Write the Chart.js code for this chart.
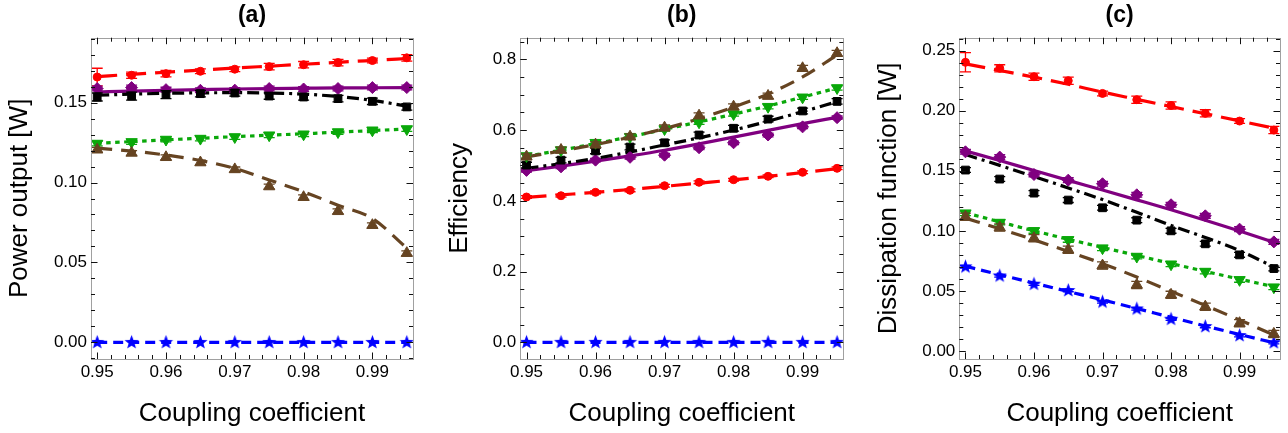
<!DOCTYPE html>
<html>
<head>
<meta charset="utf-8">
<script src="https://cdn.jsdelivr.net/npm/chart.js@4.4.1/dist/chart.umd.min.js"></script>
<style>
  body { margin: 0; background: #fff; width: 1288px; height: 433px; overflow: hidden; position: relative; }
  canvas { position: absolute; top: 0; }
</style>
</head>
<body>
<canvas id="panel-a" width="430" height="433" style="left:0px"></canvas>
<canvas id="panel-b" width="430" height="433" style="left:430px"></canvas>
<canvas id="panel-c" width="428" height="433" style="left:860px"></canvas>
<script>
// coupling coefficient values (x of every point)
const coupling = [0.95, 0.955, 0.96, 0.965, 0.97, 0.975, 0.98, 0.985, 0.99, 0.995];
const couplingTicks = [0.95, 0.96, 0.97, 0.98, 0.99];

// (a) power output [W]
const powerTicks = [0, 0.05, 0.10, 0.15];
const powerRed = [0.166, 0.1671, 0.1681, 0.1696, 0.1709, 0.1725, 0.1737, 0.175, 0.1763, 0.178];
const powerRedErr = [0.0055, 0.002, 0.002, 0.0015, 0.0015, 0.002, 0.002, 0.002, 0.0015, 0.002];
const powerRedFit = [0.1663, 0.1677, 0.169, 0.1703, 0.1716, 0.1728, 0.174, 0.1752, 0.1764, 0.1776];
const powerPurple = [0.1588, 0.1594, 0.1581, 0.1577, 0.1578, 0.1588, 0.1585, 0.1588, 0.1594, 0.1594];
const powerPurpleErr = [0.0015, 0.0015, 0.0015, 0.0015, 0.0015, 0.0015, 0.0015, 0.0015, 0.0015, 0.0015];
const powerPurpleFit = [0.1566, 0.1572, 0.1577, 0.1581, 0.1585, 0.1588, 0.159, 0.1592, 0.1593, 0.1594];
const powerBlack = [0.1535, 0.1541, 0.155, 0.1556, 0.156, 0.1541, 0.1535, 0.1525, 0.1508, 0.1473];
const powerBlackErr = [0.0025, 0.0025, 0.0025, 0.002, 0.002, 0.002, 0.002, 0.002, 0.002, 0.002];
const powerBlackFit = [0.1546, 0.1553, 0.1558, 0.1561, 0.1562, 0.156, 0.1553, 0.1538, 0.1514, 0.1478];
const powerGreen = [0.1244, 0.1254, 0.1269, 0.1275, 0.1285, 0.1296, 0.1302, 0.1316, 0.1327, 0.1335];
const powerGreenErr = [0.0015, 0.0015, 0.0015, 0.0015, 0.0015, 0.0015, 0.0015, 0.0015, 0.0015, 0.0015];
const powerGreenFit = [0.1245, 0.1256, 0.1267, 0.1277, 0.1287, 0.1296, 0.1305, 0.1315, 0.1325, 0.1335];
const powerBrown = [0.1205, 0.1185, 0.1158, 0.1125, 0.1082, 0.0975, 0.0908, 0.082, 0.0733, 0.0558];
const powerBrownErr = [0.0015, 0.0015, 0.0015, 0.0015, 0.0015, 0.0015, 0.0015, 0.0015, 0.0015, 0.0015];
const powerBrownFit = [0.1215, 0.1197, 0.1172, 0.1138, 0.1088, 0.1016, 0.0942, 0.0858, 0.0775, 0.059];
const powerBlue = [0, 0, 0, 0, 0, 0, 0, 0, 0, 0];
const powerBlueFit = [0, 0, 0, 0, 0, 0, 0, 0, 0, 0];

// (b) efficiency
const effTicks = [0, 0.2, 0.4, 0.6, 0.8];
const effRed = [0.4108, 0.4144, 0.424, 0.4297, 0.4427, 0.4523, 0.4597, 0.4693, 0.4806, 0.4919];
const effRedErr = [0.004, 0.004, 0.004, 0.004, 0.004, 0.004, 0.004, 0.004, 0.004, 0.004];
const effRedFit = [0.41, 0.417, 0.424, 0.432, 0.441, 0.45, 0.459, 0.469, 0.48, 0.491];
const effPurple = [0.486, 0.496, 0.515, 0.523, 0.529, 0.55, 0.564, 0.586, 0.609, 0.635];
const effPurpleErr = [0.005, 0.005, 0.005, 0.005, 0.005, 0.005, 0.005, 0.005, 0.005, 0.005];
const effPurpleFit = [0.485, 0.498, 0.512, 0.527, 0.543, 0.561, 0.58, 0.599, 0.618, 0.636];
const effBlack = [0.501, 0.515, 0.541, 0.552, 0.564, 0.586, 0.605, 0.631, 0.654, 0.681];
const effBlackErr = [0.008, 0.008, 0.008, 0.008, 0.008, 0.008, 0.008, 0.008, 0.008, 0.008];
const effBlackFit = [0.492, 0.505, 0.52, 0.538, 0.558, 0.578, 0.6, 0.625, 0.652, 0.68];
const effGreen = [0.5267, 0.5436, 0.5643, 0.5813, 0.603, 0.622, 0.6454, 0.666, 0.6926, 0.719];
const effGreenErr = [0.006, 0.006, 0.006, 0.006, 0.006, 0.006, 0.006, 0.006, 0.006, 0.006];
const effGreenFit = [0.526, 0.543, 0.562, 0.581, 0.602, 0.623, 0.645, 0.668, 0.693, 0.719];
const effBrown = [0.5248, 0.5436, 0.5587, 0.5813, 0.6067, 0.6406, 0.666, 0.6963, 0.7746, 0.817];
const effBrownErr = [0.008, 0.008, 0.008, 0.008, 0.008, 0.008, 0.008, 0.008, 0.008, 0.008];
const effBrownFit = [0.524, 0.541, 0.559, 0.58, 0.604, 0.632, 0.665, 0.702, 0.75, 0.812];
const effBlue = [0, 0, 0, 0, 0, 0, 0, 0, 0, 0];
const effBlueFit = [0, 0, 0, 0, 0, 0, 0, 0, 0, 0];

// (c) dissipation function [W]
const dissTicks = [0, 0.05, 0.10, 0.15, 0.20, 0.25];
const dissRed = [0.2403, 0.2353, 0.2283, 0.225, 0.2144, 0.2092, 0.2044, 0.1978, 0.1914, 0.1839];
const dissRedErr = [0.008, 0.003, 0.003, 0.003, 0.002, 0.003, 0.003, 0.003, 0.002, 0.003];
const dissRedFit = [0.239, 0.2335, 0.228, 0.222, 0.2155, 0.2095, 0.2035, 0.1975, 0.1915, 0.1855];
const dissPurple = [0.1658, 0.1614, 0.1469, 0.1422, 0.1392, 0.13, 0.1217, 0.1125, 0.1014, 0.0908];
const dissPurpleErr = [0.002, 0.002, 0.002, 0.002, 0.002, 0.002, 0.002, 0.002, 0.002, 0.002];
const dissPurpleFit = [0.1665, 0.1585, 0.1502, 0.142, 0.134, 0.1258, 0.1175, 0.1088, 0.0998, 0.0905];
const dissBlack = [0.1506, 0.1431, 0.1314, 0.1256, 0.1192, 0.1089, 0.1, 0.0892, 0.08, 0.0686];
const dissBlackErr = [0.002, 0.002, 0.002, 0.002, 0.002, 0.002, 0.002, 0.002, 0.002, 0.002];
const dissBlackFit = [0.1635, 0.1545, 0.1452, 0.1357, 0.126, 0.1155, 0.1045, 0.0945, 0.0835, 0.07];
const dissGreen = [0.1147, 0.1069, 0.1, 0.0925, 0.0856, 0.0786, 0.0722, 0.0661, 0.0592, 0.0531];
const dissGreenErr = [0.002, 0.002, 0.002, 0.002, 0.002, 0.002, 0.002, 0.002, 0.002, 0.002];
const dissGreenFit = [0.115, 0.1075, 0.1, 0.093, 0.0862, 0.0795, 0.0728, 0.0662, 0.0598, 0.0535];
const dissBrown = [0.1117, 0.1028, 0.0939, 0.0842, 0.0711, 0.055, 0.0467, 0.0369, 0.0231, 0.0142];
const dissBrownErr = [0.003, 0.003, 0.003, 0.003, 0.003, 0.003, 0.003, 0.003, 0.003, 0.003];
const dissBrownFit = [0.1106, 0.1017, 0.0925, 0.0828, 0.0727, 0.0615, 0.0497, 0.0378, 0.0258, 0.0133];
const dissBlue = [0.07, 0.0625, 0.0556, 0.0503, 0.0408, 0.035, 0.0264, 0.0203, 0.0128, 0.0069];
const dissBlueErr = [0.001, 0.001, 0.001, 0.001, 0.001, 0.001, 0.001, 0.001, 0.001, 0.001];
const dissBlueFit = [0.0705, 0.0635, 0.0565, 0.0495, 0.0425, 0.0353, 0.028, 0.0208, 0.0137, 0.0068];

Chart.defaults.font.family = "'Liberation Sans', Arial, sans-serif";
Chart.defaults.color = '#000';

const RED = '#ff0000', PURPLE = '#800080', BLACK = '#000000', GREEN = '#0aa80a', BROWN = '#664422', BLUE = '#0000ff';

// filled five pointed star for the blue series
function starImage(r, color) {
  const c = document.createElement('canvas');
  const s = Math.ceil(r * 2 + 2);
  c.width = s; c.height = s;
  const g = c.getContext('2d');
  g.fillStyle = color;
  g.beginPath();
  for (let i = 0; i < 10; i++) {
    const rad = i % 2 === 0 ? r : r * 0.42;
    const a = -Math.PI / 2 + i * Math.PI / 5;
    const px = s / 2 + rad * Math.cos(a), py = s / 2 + rad * Math.sin(a);
    if (i === 0) g.moveTo(px, py); else g.lineTo(px, py);
  }
  g.closePath();
  g.fill();
  return c;
}
const star = starImage(7.5, BLUE);

function serie(color, marker, size, rot, dash, pts, err, fit) {
  return { color, marker, size, rot, dash, pts, err, fit };
}

function armarDatasets(series) {
  const out = [];
  series.forEach(s => {
    out.push({
      type: 'line',
      data: coupling.map((x, i) => ({ x: x, y: s.fit[i] })),
      borderColor: s.color,
      borderWidth: 3.2,
      borderDash: s.dash,
      borderCapStyle: 'butt',
      pointRadius: 0,
      cubicInterpolationMode: 'monotone',
      fill: false,
      order: 2
    });
    out.push({
      type: 'scatter',
      data: coupling.map((x, i) => ({ x: x, y: s.pts[i] })),
      errores: s.err,
      backgroundColor: s.color,
      borderColor: s.color,
      pointStyle: s.marker,
      pointRadius: s.size,
      pointRotation: s.rot,
      pointBorderWidth: 1,
      showLine: false,
      order: 1
    });
  });
  return out;
}

// minor values between min and max with a given step
function minorValues(min, max, step) {
  const vals = [];
  for (let k = Math.ceil(min / step - 1e-9); k * step <= max + 1e-12; k++) vals.push(k * step);
  return vals;
}

const marco = {
  id: 'marco',
  afterDatasetDraw(chart, args) {
    const ds = chart.data.datasets[args.index];
    if (!ds.errores) return;
    const { ctx, scales: { y } } = chart;
    ctx.save();
    ctx.strokeStyle = ds.borderColor;
    ctx.lineWidth = 1.3;
    args.meta.data.forEach((el, i) => {
      const e = ds.errores[i];
      if (!e) return;
      const v = ds.data[i].y;
      const y1 = y.getPixelForValue(v + e), y2 = y.getPixelForValue(v - e);
      ctx.beginPath();
      ctx.moveTo(el.x, y1); ctx.lineTo(el.x, y2);
      ctx.moveTo(el.x - 5.5, y1); ctx.lineTo(el.x + 5.5, y1);
      ctx.moveTo(el.x - 5.5, y2); ctx.lineTo(el.x + 5.5, y2);
      ctx.stroke();
    });
    ctx.restore();
  },
  afterDraw(chart, args, opts) {
    const { ctx, chartArea: a, scales: { x, y } } = chart;
    ctx.save();
    ctx.strokeStyle = '#a0a0a0';
    ctx.lineWidth = 1;
    ctx.strokeRect(Math.round(a.left) + 0.5, Math.round(a.top) + 0.5, Math.round(a.right - a.left), Math.round(a.bottom - a.top));
    ctx.strokeStyle = '#111';
    const major = 6.5, minor = 4;
    const xMaj = x.ticks.map(t => t.value);
    minorValues(x.min, x.max, opts.xMinor).forEach(v => {
      const isMaj = xMaj.some(m => Math.abs(m - v) < 1e-9);
      const len = isMaj ? major : minor;
      const px = Math.round(x.getPixelForValue(v)) + 0.5;
      ctx.beginPath();
      ctx.moveTo(px, a.bottom); ctx.lineTo(px, a.bottom - len);
      ctx.moveTo(px, a.top); ctx.lineTo(px, a.top + len);
      ctx.stroke();
    });
    const yMaj = y.ticks.map(t => t.value);
    minorValues(y.min, y.max, opts.yMinor).forEach(v => {
      const isMaj = yMaj.some(m => Math.abs(m - v) < 1e-9);
      const len = isMaj ? major : minor;
      const py = Math.round(y.getPixelForValue(v)) + 0.5;
      ctx.beginPath();
      ctx.moveTo(a.left, py); ctx.lineTo(a.left + len, py);
      ctx.moveTo(a.right, py); ctx.lineTo(a.right - len, py);
      ctx.stroke();
    });
    ctx.restore();
  }
};

function graficar(id, cfg) {
  const ctx = document.getElementById(id).getContext('2d');
  return new Chart(ctx, {
    type: 'scatter',
    data: { datasets: armarDatasets(cfg.series) },
    options: {
      responsive: false,
      animation: false,
      devicePixelRatio: 1,
      layout: { padding: { left: 0, right: cfg.padRight, top: 0, bottom: 0 } },
      plugins: {
        legend: { display: false },
        tooltip: { enabled: false },
        title: {
          display: true, text: cfg.title, fullSize: false, color: '#000',
          font: { size: 23, weight: 'bold' }, lineHeight: 1.2, padding: { top: 2, bottom: 8.1 }
        },
        marco: { xMinor: 0.002, yMinor: cfg.yMinor }
      },
      scales: {
        x: {
          type: 'linear', min: 0.9491, max: 0.9959,
          afterBuildTicks: s => { s.ticks = couplingTicks.map(v => ({ value: v })); },
          afterFit: s => { s.height = 74; },
          grid: { display: false, drawTicks: false }, border: { display: false },
          ticks: { font: { size: 17 }, padding: 3, maxRotation: 0, autoSkip: false, callback: v => v.toFixed(2) },
          title: { display: true, text: 'Coupling coefficient', font: { size: 26 }, padding: { top: 0, bottom: 3.5 } }
        },
        y: {
          type: 'linear', min: cfg.yMin, max: cfg.yMax,
          afterBuildTicks: s => { s.ticks = cfg.yTicks.map(v => ({ value: v })); },
          afterFit: s => { s.width = cfg.yWidth; },
          grid: { display: false, drawTicks: false }, border: { display: false },
          ticks: { font: { size: 17 }, padding: 4, autoSkip: false, callback: v => v.toFixed(cfg.dec) },
          title: { display: true, text: cfg.yLabel, font: { size: 26 }, padding: { top: cfg.yTitlePad, bottom: 0 } }
        }
      }
    },
    plugins: [marco]
  });
}

graficar('panel-a', {
  title: '(a)', yLabel: 'Power output [W]', yMin: -0.0104, yMax: 0.1906, yTicks: powerTicks, dec: 2,
  yMinor: 0.01, yWidth: 91, padRight: 17, yTitlePad: 4.4,
  series: [
    serie(BROWN, 'triangle', 6.5, 0, [15, 9], powerBrown, powerBrownErr, powerBrownFit),
    serie(GREEN, 'triangle', 6.5, 180, [4.5, 4.5], powerGreen, powerGreenErr, powerGreenFit),
    serie(BLACK, 'rect', 5.5, 0, [12, 5, 3, 5], powerBlack, powerBlackErr, powerBlackFit),
    serie(PURPLE, 'rectRot', 6, 0, [], powerPurple, powerPurpleErr, powerPurpleFit),
    serie(RED, 'circle', 4, 0, [20, 9], powerRed, powerRedErr, powerRedFit),
    serie(BLUE, star, 7, 0, [10, 6], powerBlue, null, powerBlueFit)
  ]
});

graficar('panel-b', {
  title: '(b)', yLabel: 'Efficiency', yMin: -0.047, yMax: 0.861, yTicks: effTicks, dec: 1,
  yMinor: 0.05, yWidth: 90.3, padRight: 16.7, yTitlePad: 14.4,
  series: [
    serie(BROWN, 'triangle', 6.5, 0, [15, 9], effBrown, effBrownErr, effBrownFit),
    serie(GREEN, 'triangle', 6.5, 180, [4.5, 4.5], effGreen, effGreenErr, effGreenFit),
    serie(BLACK, 'rect', 5.5, 0, [12, 5, 3, 5], effBlack, effBlackErr, effBlackFit),
    serie(PURPLE, 'rectRot', 6, 0, [], effPurple, effPurpleErr, effPurpleFit),
    serie(RED, 'circle', 4, 0, [20, 9], effRed, effRedErr, effRedFit),
    serie(BLUE, star, 7, 0, [10, 6], effBlue, null, effBlueFit)
  ]
});

graficar('panel-c', {
  title: '(c)', yLabel: 'Dissipation function [W]', yMin: -0.0067, yMax: 0.2608, yTicks: dissTicks, dec: 2,
  yMinor: 0.01, yWidth: 99.3, padRight: 6.3, yTitlePad: 13.4,
  series: [
    serie(BROWN, 'triangle', 6.5, 0, [15, 9], dissBrown, dissBrownErr, dissBrownFit),
    serie(GREEN, 'triangle', 6.5, 180, [4.5, 4.5], dissGreen, dissGreenErr, dissGreenFit),
    serie(BLACK, 'rect', 5.5, 0, [12, 5, 3, 5], dissBlack, dissBlackErr, dissBlackFit),
    serie(PURPLE, 'rectRot', 6, 0, [], dissPurple, dissPurpleErr, dissPurpleFit),
    serie(RED, 'circle', 4, 0, [20, 9], dissRed, dissRedErr, dissRedFit),
    serie(BLUE, star, 7, 0, [10, 6], dissBlue, dissBlueErr, dissBlueFit)
  ]
});
</script>
</body>
</html>
